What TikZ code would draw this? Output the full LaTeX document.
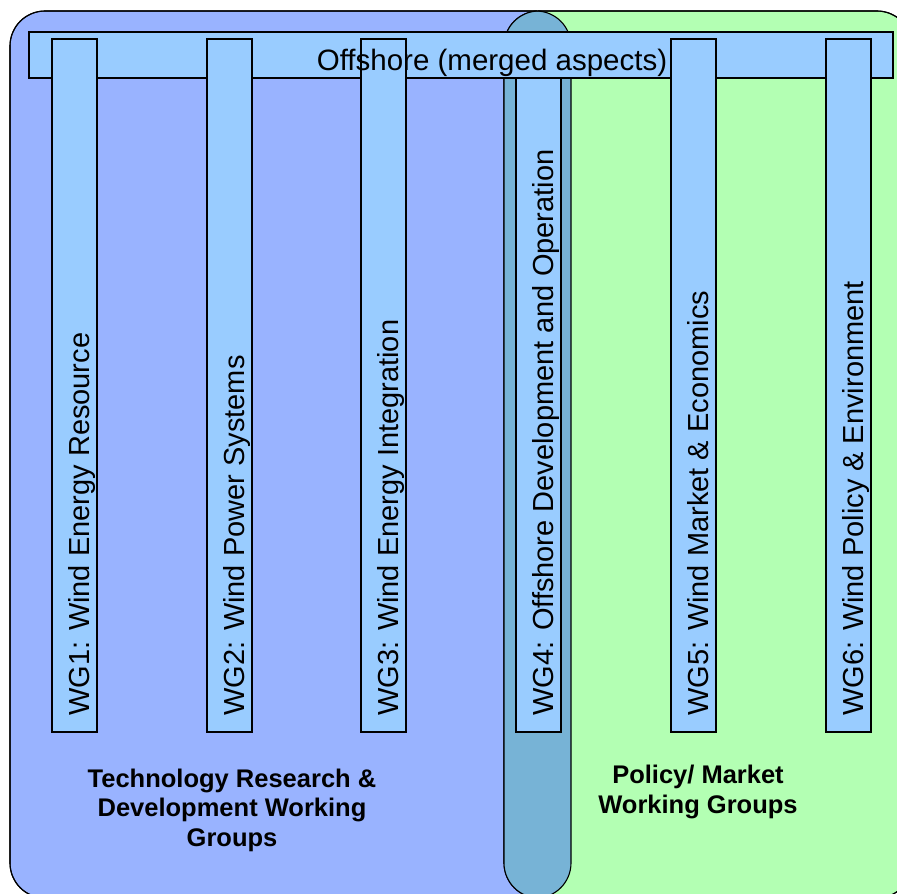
\documentclass[tikz,border=0pt]{standalone}
\usepackage{fontspec}
\setmainfont{Liberation Sans}
\definecolor{techblue}{RGB}{153,179,255}
\definecolor{polgreen}{RGB}{179,255,179}
\definecolor{overlapc}{RGB}{119,179,214}
\definecolor{barblue}{RGB}{153,204,255}
\begin{document}
\begin{tikzpicture}[x=1pt,y=-1pt,
  grp/.style={draw=black, line width=1.1pt, rounded corners=35pt},
  barbox/.style={draw=black, line width=1.1pt, fill=barblue},
  wg/.style={rotate=90, anchor=base west, font=\fontsize{29}{34}\selectfont, inner sep=0pt},
  lab/.style={align=center, inner sep=0pt, font=\bfseries\fontsize{25.5}{29.5}\selectfont}]
\useasboundingbox (0,0) rectangle (897,894);
\begin{scope}
  \clip (0,0) rectangle (897,894);
  \path[grp, fill=techblue] (10,11) rectangle (571,898);
  \path[grp, fill=polgreen] (504,11) rectangle (912,898);
  \begin{scope}
    \clip[rounded corners=35pt] (10,11) rectangle (571,898);
    \fill[overlapc, rounded corners=35pt] (504,11) rectangle (912,898);
  \end{scope}
  \draw[grp] (10,11) rectangle (571,898);
  \draw[grp] (504,11) rectangle (912,898);
\end{scope}
% WG4 bar lies under the offshore bar
\draw[barbox] (516,39) rectangle (561,732);
% offshore bar
\draw[barbox] (29,32) rectangle (893,78);
% other bars
\foreach \xx in {52,207,361,671,826} {
  \draw[barbox] (\xx,39) rectangle (\xx+45,732);
}
\node[inner sep=0pt, anchor=base, font=\fontsize{29.5}{34}\selectfont] (off) at (492,70) {Offshore (merged aspects)};
\node[wg] (wg1) at (89,716) {WG1: Wind Energy Resource};
\node[wg] (wg2) at (244,716) {WG2: Wind Power Systems};
\node[wg] (wg3) at (398,716) {WG3: Wind Energy Integration};
\node[wg] (wg4) at (553,716) {WG4: Offshore Development and Operation};
\node[wg] (wg5) at (708,716) {WG5: Wind Market \& Economics};
\node[wg] (wg6) at (863,716) {WG6: Wind Policy \& Environment};
\node[lab] (tech) at (232,810) {Technology Research \&\\Development Working\\Groups};
\node[lab] (pol) at (698,792) {Policy/ Market\\Working Groups};
\end{tikzpicture}
\end{document}
